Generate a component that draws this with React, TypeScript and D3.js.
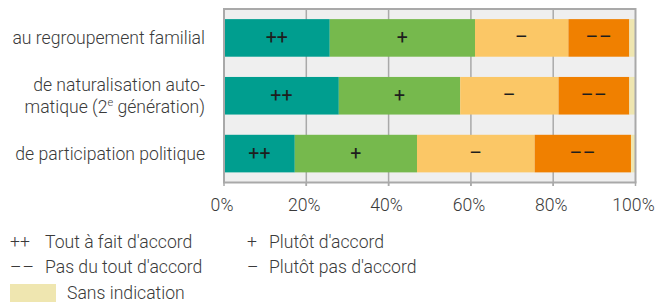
import React from "react";
import * as d3 from "d3";

const categories = ["au regroupement familial", "de naturalisation automatique", "de participation politique"];
const seriesKeys = ["pp", "p", "m", "mm", "si"];
const seriesSymbols = ["++", "+", "–", "––", ""];
const seriesColors = ["#009e8f", "#76b94d", "#fbc766", "#f08000", "#efe6b0"];
const valuesPP = [25.7, 27.9, 17.2];
const valuesP = [35.3, 29.5, 29.7];
const valuesM = [22.7, 23.9, 28.6];
const valuesMM = [14.8, 17.2, 23.4];
const valuesSI = [1.5, 1.5, 1.1];
const ticks = [0, 20, 40, 60, 80, 100];
const legendItems = [
  { sym: "++", label: "Tout à fait d'accord" },
  { sym: "+", label: "Plutôt d'accord" },
  { sym: "––", label: "Pas du tout d'accord" },
  { sym: "–", label: "Plutôt pas d'accord" },
];

const W = 670;
const H = 302;
const FONT = "Roboto, 'Noto Sans', sans-serif";
const TEXT = "#3a3a3a";
const GRID = "#a9a9a9";
const FS = 17.6;

export default function App() {
  const left = 224;
  const right = 635.5;
  const top = 9;
  const bottom = 182.5;
  const x = d3.scaleLinear().domain([0, 100]).range([left, right]);
  const y = d3.scaleBand<string>().domain(categories).range([top, bottom]).paddingInner(0.35).paddingOuter(0.175);

  const rows = categories.map((c, i) => ({ cat: c, pp: valuesPP[i], p: valuesP[i], m: valuesM[i], mm: valuesMM[i], si: valuesSI[i] }));
  const stack = d3.stack<any>().keys(seriesKeys)(rows);

  return (
    <svg width={W} height={H} style={{ position: "absolute", left: 0, top: 0 }} fontFamily={FONT}>
      <rect x={left} y={top} width={right - left} height={bottom - top} fill="#efefef" />
      {ticks.slice(1, -1).map((t) => (
        <line key={t} x1={x(t)} x2={x(t)} y1={top} y2={bottom + 3.5} stroke={GRID} strokeWidth={1.5} />
      ))}
      {stack.map((s, si) =>
        s.map((d, i) => {
          const x0 = x(d[0]);
          const x1 = x(d[1]);
          const yy = y(categories[i])!;
          return (
            <g key={si + "-" + i}>
              <rect x={x0} y={yy} width={x1 - x0} height={y.bandwidth()} fill={seriesColors[si]} />
              {seriesSymbols[si] && (
                <text x={(x0 + x1) / 2} y={yy + y.bandwidth() / 2 + 6.5} textAnchor="middle" fontSize={19.5} fill="#1e1e1e" fontWeight={400} letterSpacing={seriesSymbols[si].startsWith("–") ? 0.5 : 0}>
                  {seriesSymbols[si]}
                </text>
              )}
            </g>
          );
        })
      )}
      <path d={`M${left},${bottom}V${top}H${right}V${bottom}`} fill="none" stroke={GRID} strokeWidth={2} />
      <line x1={left - 1} x2={right + 1} y1={bottom} y2={bottom} stroke={GRID} strokeWidth={2} />
      {ticks.map((t) => (
        <g key={t}>
          <line x1={x(t)} x2={x(t)} y1={bottom} y2={bottom + 3.5} stroke={GRID} strokeWidth={1.5} />
          <text x={x(t) - 2} y={211} textAnchor="middle" fontSize={FS} fontWeight={300} fill={TEXT}>
            {t}%
          </text>
        </g>
      ))}
      <text x={205} y={y(categories[0])! + y.bandwidth() / 2 + 6.5} textAnchor="end" fontSize={FS} fontWeight={300} fill={TEXT}>
        au regroupement familial
      </text>
      <text x={205} y={y(categories[1])! + y.bandwidth() / 2 - 4.5} textAnchor="end" fontSize={FS} fontWeight={300} fill={TEXT}>
        de naturalisation auto-
      </text>
      <text x={205} y={y(categories[1])! + y.bandwidth() / 2 + 17.5} textAnchor="end" fontSize={FS} fontWeight={300} fill={TEXT}>
        matique (2<tspan fontSize={11} dy={-7}>e</tspan><tspan dy={7}> génération)</tspan>
      </text>
      <text x={205} y={y(categories[2])! + y.bandwidth() / 2 + 6.5} textAnchor="end" fontSize={FS} fontWeight={300} fill={TEXT}>
        de participation politique
      </text>
      {legendItems.map((it, i) => {
        const col = i % 2;
        const row = Math.floor(i / 2);
        const bx = col === 0 ? 10 : 247;
        const by = 248 + row * 25;
        return (
          <g key={i}>
            <text x={bx} y={by} fontSize={FS} fontWeight={300} fill={TEXT} letterSpacing={it.sym.startsWith("–") ? 1 : 0}>{it.sym}</text>
            <text x={bx + (col === 0 ? 35 : 22)} y={by} fontSize={FS} fontWeight={300} fill={TEXT}>{it.label}</text>
          </g>
        );
      })}
      <rect x={10} y={284} width={46} height={18} fill={seriesColors[4]} />
      <text x={67} y={298.5} fontSize={FS} fontWeight={300} fill={TEXT}>Sans indication</text>
    </svg>
  );
}
